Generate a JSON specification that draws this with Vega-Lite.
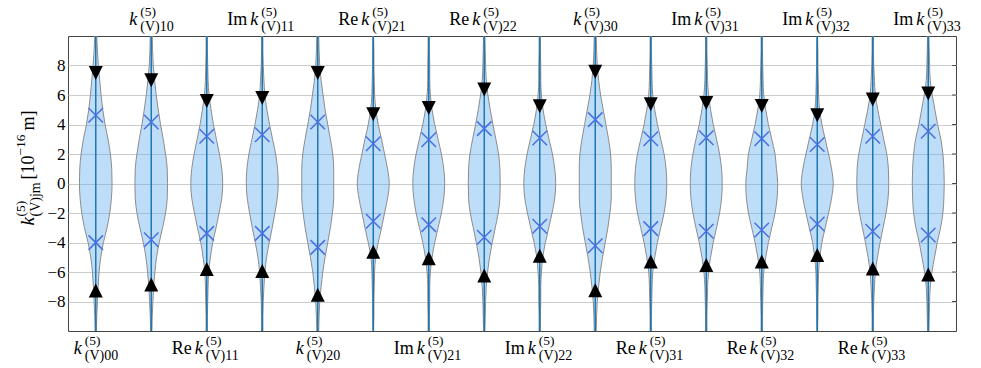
{
"$schema": "https://vega.github.io/schema/vega-lite/v6.json",
"width": 888, "height": 295,
"autosize": "none",
"padding": {"left": 68, "top": 36, "right": 25, "bottom": 37},
"background": "white",
"config": {"view": {"stroke": "#444444", "strokeWidth": 1}, "font": "Liberation Serif", "text": {"font": "Liberation Serif", "color": "#000000"},
 "axisY": {"grid": true, "gridColor": "#cccccc", "gridWidth": 1, "ticks": false, "domain": false, "labelFont": "Liberation Serif", "labelFontSize": 17, "labelColor": "#000000", "labelPadding": 3, "labelOverlap": false, "labelFlush": false, "title": null}},
"datasets": {
"yticks": [{"v":-8},{"v":-6},{"v":-4},{"v":-2},{"v":0},{"v":2},{"v":4},{"v":6},{"v":8}],
"stats": [
{"i":0,"pre":"","sub":"(V)00","hi95":7.5,"lo95":-7.26,"hi68":4.63,"lo68":-4.01},
{"i":1,"pre":"","sub":"(V)10","hi95":7.0,"lo95":-6.85,"hi68":4.17,"lo68":-3.81},
{"i":2,"pre":"Re","sub":"(V)11","hi95":5.6,"lo95":-5.8,"hi68":3.2,"lo68":-3.38},
{"i":3,"pre":"Im","sub":"(V)11","hi95":5.8,"lo95":-5.94,"hi68":3.31,"lo68":-3.38},
{"i":4,"pre":"","sub":"(V)20","hi95":7.5,"lo95":-7.55,"hi68":4.17,"lo68":-4.33},
{"i":5,"pre":"Re","sub":"(V)21","hi95":4.69,"lo95":-4.63,"hi68":2.7,"lo68":-2.56},
{"i":6,"pre":"Im","sub":"(V)21","hi95":5.12,"lo95":-5.06,"hi68":2.97,"lo68":-2.79},
{"i":7,"pre":"Re","sub":"(V)22","hi95":6.37,"lo95":-6.24,"hi68":3.72,"lo68":-3.65},
{"i":8,"pre":"Im","sub":"(V)22","hi95":5.24,"lo95":-4.9,"hi68":3.08,"lo68":-2.9},
{"i":9,"pre":"","sub":"(V)30","hi95":7.57,"lo95":-7.23,"hi68":4.33,"lo68":-4.22},
{"i":10,"pre":"Re","sub":"(V)31","hi95":5.37,"lo95":-5.28,"hi68":3.04,"lo68":-3.06},
{"i":11,"pre":"Im","sub":"(V)31","hi95":5.46,"lo95":-5.53,"hi68":3.1,"lo68":-3.24},
{"i":12,"pre":"Re","sub":"(V)32","hi95":5.26,"lo95":-5.28,"hi68":3.04,"lo68":-3.15},
{"i":13,"pre":"Im","sub":"(V)32","hi95":4.63,"lo95":-4.85,"hi68":2.65,"lo68":-2.74},
{"i":14,"pre":"Re","sub":"(V)33","hi95":5.69,"lo95":-5.76,"hi68":3.2,"lo68":-3.24},
{"i":15,"pre":"Im","sub":"(V)33","hi95":6.1,"lo95":-6.17,"hi68":3.54,"lo68":-3.49}
],
"shape": [
{"i":0,"y":11,"w":0.012},{"i":0,"y":10,"w":0.018},{"i":0,"y":9,"w":0.03},{"i":0,"y":8,"w":0.048},{"i":0,"y":7,"w":0.072},{"i":0,"y":6,"w":0.096},{"i":0,"y":5,"w":0.126},{"i":0,"y":4,"w":0.168},{"i":0,"y":3,"w":0.222},{"i":0,"y":2,"w":0.264},{"i":0,"y":1,"w":0.288},{"i":0,"y":0,"w":0.294},{"i":0,"y":-1,"w":0.282},{"i":0,"y":-2,"w":0.252},{"i":0,"y":-3,"w":0.204},{"i":0,"y":-4,"w":0.138},{"i":0,"y":-5,"w":0.09},{"i":0,"y":-6,"w":0.06},{"i":0,"y":-7,"w":0.042},{"i":0,"y":-8,"w":0.03},{"i":0,"y":-9,"w":0.018},{"i":0,"y":-10,"w":0.012},{"i":0,"y":-11,"w":0.006},
{"i":1,"y":11,"w":0.012},{"i":1,"y":10,"w":0.018},{"i":1,"y":9,"w":0.024},{"i":1,"y":8,"w":0.036},{"i":1,"y":7,"w":0.06},{"i":1,"y":6,"w":0.09},{"i":1,"y":5,"w":0.126},{"i":1,"y":4,"w":0.168},{"i":1,"y":3,"w":0.216},{"i":1,"y":2,"w":0.258},{"i":1,"y":1,"w":0.288},{"i":1,"y":0,"w":0.294},{"i":1,"y":-1,"w":0.288},{"i":1,"y":-2,"w":0.258},{"i":1,"y":-3,"w":0.204},{"i":1,"y":-4,"w":0.144},{"i":1,"y":-5,"w":0.096},{"i":1,"y":-6,"w":0.066},{"i":1,"y":-7,"w":0.042},{"i":1,"y":-8,"w":0.03},{"i":1,"y":-9,"w":0.018},{"i":1,"y":-10,"w":0.012},{"i":1,"y":-11,"w":0.006},
{"i":2,"y":11,"w":0.006},{"i":2,"y":10,"w":0.012},{"i":2,"y":9,"w":0.012},{"i":2,"y":8,"w":0.018},{"i":2,"y":7,"w":0.024},{"i":2,"y":6,"w":0.042},{"i":2,"y":5,"w":0.078},{"i":2,"y":4,"w":0.12},{"i":2,"y":3,"w":0.174},{"i":2,"y":2,"w":0.228},{"i":2,"y":1,"w":0.27},{"i":2,"y":0,"w":0.288},{"i":2,"y":-1,"w":0.27},{"i":2,"y":-2,"w":0.222},{"i":2,"y":-3,"w":0.168},{"i":2,"y":-4,"w":0.108},{"i":2,"y":-5,"w":0.066},{"i":2,"y":-6,"w":0.036},{"i":2,"y":-7,"w":0.024},{"i":2,"y":-8,"w":0.018},{"i":2,"y":-9,"w":0.012},{"i":2,"y":-10,"w":0.012},{"i":2,"y":-11,"w":0.006},
{"i":3,"y":11,"w":0.006},{"i":3,"y":10,"w":0.012},{"i":3,"y":9,"w":0.012},{"i":3,"y":8,"w":0.018},{"i":3,"y":7,"w":0.03},{"i":3,"y":6,"w":0.048},{"i":3,"y":5,"w":0.084},{"i":3,"y":4,"w":0.132},{"i":3,"y":3,"w":0.186},{"i":3,"y":2,"w":0.24},{"i":3,"y":1,"w":0.276},{"i":3,"y":0,"w":0.288},{"i":3,"y":-1,"w":0.27},{"i":3,"y":-2,"w":0.228},{"i":3,"y":-3,"w":0.18},{"i":3,"y":-4,"w":0.126},{"i":3,"y":-5,"w":0.078},{"i":3,"y":-6,"w":0.048},{"i":3,"y":-7,"w":0.03},{"i":3,"y":-8,"w":0.018},{"i":3,"y":-9,"w":0.012},{"i":3,"y":-10,"w":0.012},{"i":3,"y":-11,"w":0.006},
{"i":4,"y":11,"w":0.012},{"i":4,"y":10,"w":0.018},{"i":4,"y":9,"w":0.024},{"i":4,"y":8,"w":0.036},{"i":4,"y":7,"w":0.06},{"i":4,"y":6,"w":0.096},{"i":4,"y":5,"w":0.132},{"i":4,"y":4,"w":0.18},{"i":4,"y":3,"w":0.228},{"i":4,"y":2,"w":0.27},{"i":4,"y":1,"w":0.288},{"i":4,"y":0,"w":0.288},{"i":4,"y":-1,"w":0.288},{"i":4,"y":-2,"w":0.264},{"i":4,"y":-3,"w":0.228},{"i":4,"y":-4,"w":0.18},{"i":4,"y":-5,"w":0.132},{"i":4,"y":-6,"w":0.09},{"i":4,"y":-7,"w":0.06},{"i":4,"y":-8,"w":0.036},{"i":4,"y":-9,"w":0.024},{"i":4,"y":-10,"w":0.018},{"i":4,"y":-11,"w":0.012},
{"i":5,"y":11,"w":0.006},{"i":5,"y":10,"w":0.006},{"i":5,"y":9,"w":0.012},{"i":5,"y":8,"w":0.012},{"i":5,"y":7,"w":0.018},{"i":5,"y":6,"w":0.024},{"i":5,"y":5,"w":0.048},{"i":5,"y":4,"w":0.09},{"i":5,"y":3,"w":0.15},{"i":5,"y":2,"w":0.204},{"i":5,"y":1,"w":0.258},{"i":5,"y":0,"w":0.288},{"i":5,"y":-1,"w":0.258},{"i":5,"y":-2,"w":0.204},{"i":5,"y":-3,"w":0.15},{"i":5,"y":-4,"w":0.09},{"i":5,"y":-5,"w":0.042},{"i":5,"y":-6,"w":0.024},{"i":5,"y":-7,"w":0.018},{"i":5,"y":-8,"w":0.012},{"i":5,"y":-9,"w":0.012},{"i":5,"y":-10,"w":0.006},{"i":5,"y":-11,"w":0.006},
{"i":6,"y":11,"w":0.006},{"i":6,"y":10,"w":0.012},{"i":6,"y":9,"w":0.012},{"i":6,"y":8,"w":0.018},{"i":6,"y":7,"w":0.018},{"i":6,"y":6,"w":0.03},{"i":6,"y":5,"w":0.06},{"i":6,"y":4,"w":0.108},{"i":6,"y":3,"w":0.168},{"i":6,"y":2,"w":0.228},{"i":6,"y":1,"w":0.27},{"i":6,"y":0,"w":0.288},{"i":6,"y":-1,"w":0.27},{"i":6,"y":-2,"w":0.228},{"i":6,"y":-3,"w":0.168},{"i":6,"y":-4,"w":0.108},{"i":6,"y":-5,"w":0.06},{"i":6,"y":-6,"w":0.03},{"i":6,"y":-7,"w":0.018},{"i":6,"y":-8,"w":0.018},{"i":6,"y":-9,"w":0.012},{"i":6,"y":-10,"w":0.012},{"i":6,"y":-11,"w":0.006},
{"i":7,"y":11,"w":0.006},{"i":7,"y":10,"w":0.012},{"i":7,"y":9,"w":0.018},{"i":7,"y":8,"w":0.024},{"i":7,"y":7,"w":0.036},{"i":7,"y":6,"w":0.066},{"i":7,"y":5,"w":0.108},{"i":7,"y":4,"w":0.156},{"i":7,"y":3,"w":0.21},{"i":7,"y":2,"w":0.258},{"i":7,"y":1,"w":0.282},{"i":7,"y":0,"w":0.288},{"i":7,"y":-1,"w":0.282},{"i":7,"y":-2,"w":0.252},{"i":7,"y":-3,"w":0.198},{"i":7,"y":-4,"w":0.144},{"i":7,"y":-5,"w":0.096},{"i":7,"y":-6,"w":0.06},{"i":7,"y":-7,"w":0.036},{"i":7,"y":-8,"w":0.024},{"i":7,"y":-9,"w":0.018},{"i":7,"y":-10,"w":0.012},{"i":7,"y":-11,"w":0.006},
{"i":8,"y":11,"w":0.006},{"i":8,"y":10,"w":0.012},{"i":8,"y":9,"w":0.012},{"i":8,"y":8,"w":0.018},{"i":8,"y":7,"w":0.018},{"i":8,"y":6,"w":0.03},{"i":8,"y":5,"w":0.06},{"i":8,"y":4,"w":0.108},{"i":8,"y":3,"w":0.168},{"i":8,"y":2,"w":0.228},{"i":8,"y":1,"w":0.27},{"i":8,"y":0,"w":0.288},{"i":8,"y":-1,"w":0.27},{"i":8,"y":-2,"w":0.222},{"i":8,"y":-3,"w":0.162},{"i":8,"y":-4,"w":0.102},{"i":8,"y":-5,"w":0.054},{"i":8,"y":-6,"w":0.03},{"i":8,"y":-7,"w":0.018},{"i":8,"y":-8,"w":0.018},{"i":8,"y":-9,"w":0.012},{"i":8,"y":-10,"w":0.012},{"i":8,"y":-11,"w":0.006},
{"i":9,"y":11,"w":0.012},{"i":9,"y":10,"w":0.018},{"i":9,"y":9,"w":0.024},{"i":9,"y":8,"w":0.036},{"i":9,"y":7,"w":0.06},{"i":9,"y":6,"w":0.096},{"i":9,"y":5,"w":0.144},{"i":9,"y":4,"w":0.192},{"i":9,"y":3,"w":0.24},{"i":9,"y":2,"w":0.276},{"i":9,"y":1,"w":0.288},{"i":9,"y":0,"w":0.288},{"i":9,"y":-1,"w":0.288},{"i":9,"y":-2,"w":0.264},{"i":9,"y":-3,"w":0.228},{"i":9,"y":-4,"w":0.18},{"i":9,"y":-5,"w":0.132},{"i":9,"y":-6,"w":0.09},{"i":9,"y":-7,"w":0.06},{"i":9,"y":-8,"w":0.036},{"i":9,"y":-9,"w":0.024},{"i":9,"y":-10,"w":0.018},{"i":9,"y":-11,"w":0.012},
{"i":10,"y":11,"w":0.006},{"i":10,"y":10,"w":0.012},{"i":10,"y":9,"w":0.012},{"i":10,"y":8,"w":0.018},{"i":10,"y":7,"w":0.024},{"i":10,"y":6,"w":0.036},{"i":10,"y":5,"w":0.072},{"i":10,"y":4,"w":0.12},{"i":10,"y":3,"w":0.18},{"i":10,"y":2,"w":0.24},{"i":10,"y":1,"w":0.276},{"i":10,"y":0,"w":0.288},{"i":10,"y":-1,"w":0.276},{"i":10,"y":-2,"w":0.24},{"i":10,"y":-3,"w":0.18},{"i":10,"y":-4,"w":0.12},{"i":10,"y":-5,"w":0.072},{"i":10,"y":-6,"w":0.036},{"i":10,"y":-7,"w":0.024},{"i":10,"y":-8,"w":0.018},{"i":10,"y":-9,"w":0.012},{"i":10,"y":-10,"w":0.012},{"i":10,"y":-11,"w":0.006},
{"i":11,"y":11,"w":0.006},{"i":11,"y":10,"w":0.012},{"i":11,"y":9,"w":0.012},{"i":11,"y":8,"w":0.018},{"i":11,"y":7,"w":0.024},{"i":11,"y":6,"w":0.042},{"i":11,"y":5,"w":0.078},{"i":11,"y":4,"w":0.126},{"i":11,"y":3,"w":0.186},{"i":11,"y":2,"w":0.24},{"i":11,"y":1,"w":0.276},{"i":11,"y":0,"w":0.288},{"i":11,"y":-1,"w":0.276},{"i":11,"y":-2,"w":0.24},{"i":11,"y":-3,"w":0.186},{"i":11,"y":-4,"w":0.126},{"i":11,"y":-5,"w":0.078},{"i":11,"y":-6,"w":0.042},{"i":11,"y":-7,"w":0.024},{"i":11,"y":-8,"w":0.018},{"i":11,"y":-9,"w":0.012},{"i":11,"y":-10,"w":0.012},{"i":11,"y":-11,"w":0.006},
{"i":12,"y":11,"w":0.006},{"i":12,"y":10,"w":0.012},{"i":12,"y":9,"w":0.012},{"i":12,"y":8,"w":0.018},{"i":12,"y":7,"w":0.024},{"i":12,"y":6,"w":0.036},{"i":12,"y":5,"w":0.072},{"i":12,"y":4,"w":0.12},{"i":12,"y":3,"w":0.18},{"i":12,"y":2,"w":0.24},{"i":12,"y":1,"w":0.264},{"i":12,"y":0,"w":0.288},{"i":12,"y":-1,"w":0.276},{"i":12,"y":-2,"w":0.24},{"i":12,"y":-3,"w":0.18},{"i":12,"y":-4,"w":0.12},{"i":12,"y":-5,"w":0.072},{"i":12,"y":-6,"w":0.036},{"i":12,"y":-7,"w":0.024},{"i":12,"y":-8,"w":0.018},{"i":12,"y":-9,"w":0.012},{"i":12,"y":-10,"w":0.012},{"i":12,"y":-11,"w":0.006},
{"i":13,"y":11,"w":0.006},{"i":13,"y":10,"w":0.006},{"i":13,"y":9,"w":0.012},{"i":13,"y":8,"w":0.012},{"i":13,"y":7,"w":0.018},{"i":13,"y":6,"w":0.024},{"i":13,"y":5,"w":0.042},{"i":13,"y":4,"w":0.084},{"i":13,"y":3,"w":0.144},{"i":13,"y":2,"w":0.204},{"i":13,"y":1,"w":0.258},{"i":13,"y":0,"w":0.288},{"i":13,"y":-1,"w":0.258},{"i":13,"y":-2,"w":0.204},{"i":13,"y":-3,"w":0.144},{"i":13,"y":-4,"w":0.084},{"i":13,"y":-5,"w":0.048},{"i":13,"y":-6,"w":0.024},{"i":13,"y":-7,"w":0.018},{"i":13,"y":-8,"w":0.012},{"i":13,"y":-9,"w":0.012},{"i":13,"y":-10,"w":0.006},{"i":13,"y":-11,"w":0.006},
{"i":14,"y":11,"w":0.006},{"i":14,"y":10,"w":0.012},{"i":14,"y":9,"w":0.012},{"i":14,"y":8,"w":0.018},{"i":14,"y":7,"w":0.03},{"i":14,"y":6,"w":0.048},{"i":14,"y":5,"w":0.09},{"i":14,"y":4,"w":0.144},{"i":14,"y":3,"w":0.198},{"i":14,"y":2,"w":0.252},{"i":14,"y":1,"w":0.282},{"i":14,"y":0,"w":0.288},{"i":14,"y":-1,"w":0.276},{"i":14,"y":-2,"w":0.24},{"i":14,"y":-3,"w":0.186},{"i":14,"y":-4,"w":0.132},{"i":14,"y":-5,"w":0.084},{"i":14,"y":-6,"w":0.048},{"i":14,"y":-7,"w":0.03},{"i":14,"y":-8,"w":0.018},{"i":14,"y":-9,"w":0.012},{"i":14,"y":-10,"w":0.012},{"i":14,"y":-11,"w":0.006},
{"i":15,"y":11,"w":0.006},{"i":15,"y":10,"w":0.012},{"i":15,"y":9,"w":0.018},{"i":15,"y":8,"w":0.024},{"i":15,"y":7,"w":0.036},{"i":15,"y":6,"w":0.072},{"i":15,"y":5,"w":0.12},{"i":15,"y":4,"w":0.168},{"i":15,"y":3,"w":0.228},{"i":15,"y":2,"w":0.264},{"i":15,"y":1,"w":0.282},{"i":15,"y":0,"w":0.288},{"i":15,"y":-1,"w":0.282},{"i":15,"y":-2,"w":0.264},{"i":15,"y":-3,"w":0.222},{"i":15,"y":-4,"w":0.162},{"i":15,"y":-5,"w":0.114},{"i":15,"y":-6,"w":0.066},{"i":15,"y":-7,"w":0.036},{"i":15,"y":-8,"w":0.024},{"i":15,"y":-9,"w":0.018},{"i":15,"y":-10,"w":0.012},{"i":15,"y":-11,"w":0.006}
]
},
"layer": [
{
"data": {"name": "shape"},
"transform": [{"calculate": "datum.i - datum.w", "as": "lo"}, {"calculate": "datum.i + datum.w", "as": "hi"}],
"mark": {"type": "area", "orient": "horizontal", "interpolate": "monotone", "fill": "#5aa9f0", "fillOpacity": 0.4, "stroke": "#8c8c8c", "strokeWidth": 1, "clip": true},
"encoding": {
"y": {"field": "y", "type": "quantitative", "title": null, "scale": {"domain": [-10, 10], "nice": false, "zero": false}, "axis": {"values": [-8,-6,-4,-2,0,2,4,6,8], "format": "d"}},
"x": {"field": "lo", "type": "quantitative", "scale": {"domain": [-0.5, 15.5], "nice": false, "zero": false}, "axis": null},
"x2": {"field": "hi"},
"detail": {"field": "i", "type": "nominal"}
}
},
{
"data": {"name": "yticks"},
"mark": {"type": "rule", "color": "#444444", "strokeWidth": 1},
"encoding": {
"y": {"field": "v", "type": "quantitative", "title": null, "axis": {"values": [-8,-6,-4,-2,0,2,4,6,8], "format": "d"}},
"x": {"datum": 15.43, "type": "quantitative", "scale": {"domain": [-0.5, 15.5], "nice": false, "zero": false}, "axis": null},
"x2": {"datum": 15.5}
}
},
{
"data": {"name": "stats"},
"encoding": {
"x": {"field": "i", "type": "quantitative", "scale": {"domain": [-0.5, 15.5], "nice": false, "zero": false}, "axis": null}
},
"layer": [
{"mark": {"type": "rule", "color": "#1f77b4", "strokeWidth": 1.5},
 "encoding": {"y": {"datum": -10, "type": "quantitative", "title": null, "axis": {"values": [-8,-6,-4,-2,0,2,4,6,8], "format": "d"}}, "y2": {"datum": 10}}},
{"mark": {"type": "point", "shape": "M-1,-1L1,1M1,-1L-1,1", "filled": false, "size": 210, "stroke": "#4a6fe3", "strokeWidth": 1.5, "opacity": 1},
 "encoding": {"y": {"field": "hi68", "type": "quantitative", "title": null, "axis": {"values": [-8,-6,-4,-2,0,2,4,6,8], "format": "d"}}}},
{"mark": {"type": "point", "shape": "M-1,-1L1,1M1,-1L-1,1", "filled": false, "size": 210, "stroke": "#4a6fe3", "strokeWidth": 1.5, "opacity": 1},
 "encoding": {"y": {"field": "lo68", "type": "quantitative", "title": null, "axis": {"values": [-8,-6,-4,-2,0,2,4,6,8], "format": "d"}}}},
{"mark": {"type": "point", "shape": "M-1,-1L1,-1L0,1Z", "filled": true, "size": 196, "color": "#000000", "opacity": 1},
 "encoding": {"y": {"field": "hi95", "type": "quantitative", "title": null, "axis": {"values": [-8,-6,-4,-2,0,2,4,6,8], "format": "d"}}}},
{"mark": {"type": "point", "shape": "M0,-1L1,1L-1,1Z", "filled": true, "size": 196, "color": "#000000", "opacity": 1},
 "encoding": {"y": {"field": "lo95", "type": "quantitative", "title": null, "axis": {"values": [-8,-6,-4,-2,0,2,4,6,8], "format": "d"}}}}
]
},
{
"data": {"name": "stats"},
"transform": [{"filter": "datum.i % 2 == 0 && datum.pre == ''"}],
"encoding": {
"x": {"field": "i", "type": "quantitative", "scale": {"domain": [-0.5, 15.5], "nice": false, "zero": false}, "axis": null},
"y": {"datum": -10, "type": "quantitative", "title": null, "axis": {"values": [-8,-6,-4,-2,0,2,4,6,8], "format": "d"}}
},
"layer": [
{"mark": {"type": "text", "text": "k", "fontStyle": "italic", "fontSize": 18, "align": "left", "baseline": "alphabetic", "dx": -22, "dy": 23}},
{"mark": {"type": "text", "text": "(5)", "fontSize": 13.5, "align": "left", "baseline": "alphabetic", "dx": -11, "dy": 14}},
{"mark": {"type": "text", "fontSize": 14, "align": "left", "baseline": "alphabetic", "dx": -11, "dy": 29}, "encoding": {"text": {"field": "sub"}}}
]
},
{
"data": {"name": "stats"},
"transform": [{"filter": "datum.i % 2 == 0 && datum.pre != ''"}],
"encoding": {
"x": {"field": "i", "type": "quantitative", "scale": {"domain": [-0.5, 15.5], "nice": false, "zero": false}, "axis": null},
"y": {"datum": -10, "type": "quantitative", "title": null, "axis": {"values": [-8,-6,-4,-2,0,2,4,6,8], "format": "d"}}
},
"layer": [
{"mark": {"type": "text", "fontSize": 18, "align": "left", "baseline": "alphabetic", "dx": -35, "dy": 23}, "encoding": {"text": {"field": "pre"}}},
{"mark": {"type": "text", "text": "k", "fontStyle": "italic", "fontSize": 18, "align": "left", "baseline": "alphabetic", "dx": -12, "dy": 23}},
{"mark": {"type": "text", "text": "(5)", "fontSize": 13.5, "align": "left", "baseline": "alphabetic", "dx": -1, "dy": 14}},
{"mark": {"type": "text", "fontSize": 14, "align": "left", "baseline": "alphabetic", "dx": -1, "dy": 29}, "encoding": {"text": {"field": "sub"}}}
]
},
{
"data": {"name": "stats"},
"transform": [{"filter": "datum.i % 2 == 1 && datum.pre == ''"}],
"encoding": {
"x": {"field": "i", "type": "quantitative", "scale": {"domain": [-0.5, 15.5], "nice": false, "zero": false}, "axis": null},
"y": {"datum": 10, "type": "quantitative", "title": null, "axis": {"values": [-8,-6,-4,-2,0,2,4,6,8], "format": "d"}}
},
"layer": [
{"mark": {"type": "text", "text": "k", "fontStyle": "italic", "fontSize": 18, "align": "left", "baseline": "alphabetic", "dx": -22, "dy": -11}},
{"mark": {"type": "text", "text": "(5)", "fontSize": 13.5, "align": "left", "baseline": "alphabetic", "dx": -11, "dy": -20}},
{"mark": {"type": "text", "fontSize": 14, "align": "left", "baseline": "alphabetic", "dx": -11, "dy": -5}, "encoding": {"text": {"field": "sub"}}}
]
},
{
"data": {"name": "stats"},
"transform": [{"filter": "datum.i % 2 == 1 && datum.pre != ''"}],
"encoding": {
"x": {"field": "i", "type": "quantitative", "scale": {"domain": [-0.5, 15.5], "nice": false, "zero": false}, "axis": null},
"y": {"datum": 10, "type": "quantitative", "title": null, "axis": {"values": [-8,-6,-4,-2,0,2,4,6,8], "format": "d"}}
},
"layer": [
{"mark": {"type": "text", "fontSize": 18, "align": "left", "baseline": "alphabetic", "dx": -35, "dy": -11}, "encoding": {"text": {"field": "pre"}}},
{"mark": {"type": "text", "text": "k", "fontStyle": "italic", "fontSize": 18, "align": "left", "baseline": "alphabetic", "dx": -12, "dy": -11}},
{"mark": {"type": "text", "text": "(5)", "fontSize": 13.5, "align": "left", "baseline": "alphabetic", "dx": -1, "dy": -20}},
{"mark": {"type": "text", "fontSize": 14, "align": "left", "baseline": "alphabetic", "dx": -1, "dy": -5}, "encoding": {"text": {"field": "sub"}}}
]
},
{
"data": {"name": "stats"},
"transform": [{"filter": "datum.i == 0"}],
"encoding": {
"x": {"datum": -0.5, "type": "quantitative", "scale": {"domain": [-0.5, 15.5], "nice": false, "zero": false}, "axis": null},
"y": {"datum": 0, "type": "quantitative", "title": null, "axis": {"values": [-8,-6,-4,-2,0,2,4,6,8], "format": "d"}}
},
"layer": [
{"mark": {"type": "text", "text": "k", "fontStyle": "italic", "fontSize": 19, "angle": 270, "align": "left", "baseline": "alphabetic", "dx": -42, "dy": -34}},
{"mark": {"type": "text", "text": "(5)", "fontSize": 13.5, "angle": 270, "align": "left", "baseline": "alphabetic", "dx": -33, "dy": -43}},
{"mark": {"type": "text", "text": "(V)jm", "fontSize": 14, "angle": 270, "align": "left", "baseline": "alphabetic", "dx": -33, "dy": -28}},
{"mark": {"type": "text", "text": "[10", "fontSize": 18, "angle": 270, "align": "left", "baseline": "alphabetic", "dx": 4, "dy": -34}},
{"mark": {"type": "text", "text": "−16", "fontSize": 13.5, "angle": 270, "align": "left", "baseline": "alphabetic", "dx": 28, "dy": -43}},
{"mark": {"type": "text", "text": "m]", "fontSize": 18, "angle": 270, "align": "left", "baseline": "alphabetic", "dx": 53, "dy": -34}}
]
}
]
}
